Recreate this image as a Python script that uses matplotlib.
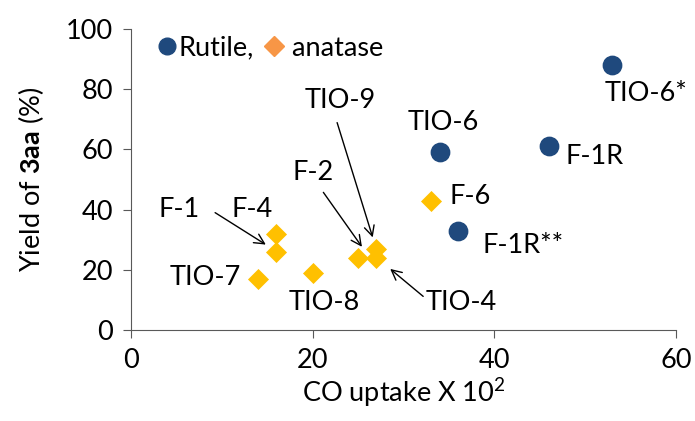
import matplotlib
matplotlib.use("Agg")
import matplotlib.pyplot as plt
from matplotlib.lines import Line2D

plt.rcParams['font.family'] = ['Lato', 'DejaVu Sans']
plt.rcParams['mathtext.fontset'] = 'custom'
plt.rcParams['mathtext.rm'] = 'Lato'
plt.rcParams['mathtext.bf'] = 'Lato:bold'

# catalyst samples: CO uptake (x 10^2) vs yield of 3aa (%)
names = ["TIO-6*", "F-1R", "TIO-6", "F-1R**",
         "F-6", "F-4", "F-1", "TIO-7", "TIO-8", "F-2", "TIO-9", "TIO-4"]
co_uptake = [53, 46, 34, 36, 33, 16, 16, 14, 20, 25, 27, 27]
yield_3aa = [88, 61, 59, 33, 43, 32, 26, 17, 19, 24, 27, 24]
phase = ["rutile", "rutile", "rutile", "rutile",
         "anatase", "anatase", "anatase", "anatase", "anatase", "anatase", "anatase", "anatase"]

# label anchors (left edge, vertical centre) in data units
label_pos = {
    "TIO-6*": (52.1, 78.5), "F-1R": (47.8, 57.5), "TIO-6": (30.5, 68.8),
    "F-6": (35.1, 44.5), "F-1R**": (38.7, 28.2), "TIO-9": (19.1, 76.1),
    "F-2": (17.8, 52.5), "F-1": (3.0, 39.9), "F-4": (11.1, 39.9),
    "TIO-7": (4.3, 17.3), "TIO-8": (17.4, 9.3), "TIO-4": (32.4, 9.3),
}
# arrows: label -> (tail, head)
arrows = {
    "F-1": ((9.0, 39.5), (15.1, 27.9)),
    "F-2": ((21.0, 46.5), (25.6, 26.9)),
    "TIO-9": ((22.6, 69.8), (26.7, 29.9)),
    "TIO-4": ((32.4, 10.6), (28.3, 20.9)),
}

blue = "#1F497D"
gold = "#FFC000"
fs = 19.5

fig = plt.figure(figsize=(6.95, 4.21), dpi=100)
ax = fig.add_axes([0.1885, 0.216, 0.7842, 0.715])

rx = [x for x, p in zip(co_uptake, phase) if p == "rutile"]
ry = [y for y, p in zip(yield_3aa, phase) if p == "rutile"]
axx = [x for x, p in zip(co_uptake, phase) if p == "anatase"]
axy = [y for y, p in zip(yield_3aa, phase) if p == "anatase"]
ax.scatter(rx, ry, s=175, marker="o", color=blue, zorder=3, clip_on=False)
ax.scatter(axx, axy, s=115, marker="D", color=gold, zorder=3, clip_on=False,
           linewidths=0)

for n in names:
    lx, ly = label_pos[n]
    ax.text(lx, ly, n, fontsize=fs, ha="left", va="center")

for n, (tail, head) in arrows.items():
    ax.annotate("", xy=head, xytext=tail,
                arrowprops=dict(arrowstyle="->", color="black", lw=1.0,
                                mutation_scale=18))

handles = [Line2D([], [], marker="o", color=blue, ls="", markersize=12),
           Line2D([], [], marker="D", color="#F79646", ls="", markersize=10)]
ax.legend(handles, ["Rutile,", " anatase"], loc="center left",
          bbox_to_anchor=(0.052, 0.937), ncol=2, frameon=False,
          fontsize=fs, handlelength=0.6, handletextpad=0.1,
          columnspacing=0.45, borderpad=0, borderaxespad=0)

ax.set_xlim(0, 60)
ax.set_ylim(0, 100)
ax.set_xticks([0, 20, 40, 60])
ax.set_yticks([0, 20, 40, 60, 80, 100])
ax.spines["top"].set_visible(False)
ax.spines["right"].set_visible(False)
for s in ("left", "bottom"):
    ax.spines[s].set_color("#595959")
ax.tick_params(direction="out", length=6, color="#595959", labelsize=fs, pad=7)
ax.set_xlabel(r"CO uptake X 10$^2$", fontsize=fs, labelpad=2)
ax.set_ylabel(r"Yield of $\mathbf{3aa}$ (%)", fontsize=fs, labelpad=14)

fig.savefig("out.png", dpi=100)
